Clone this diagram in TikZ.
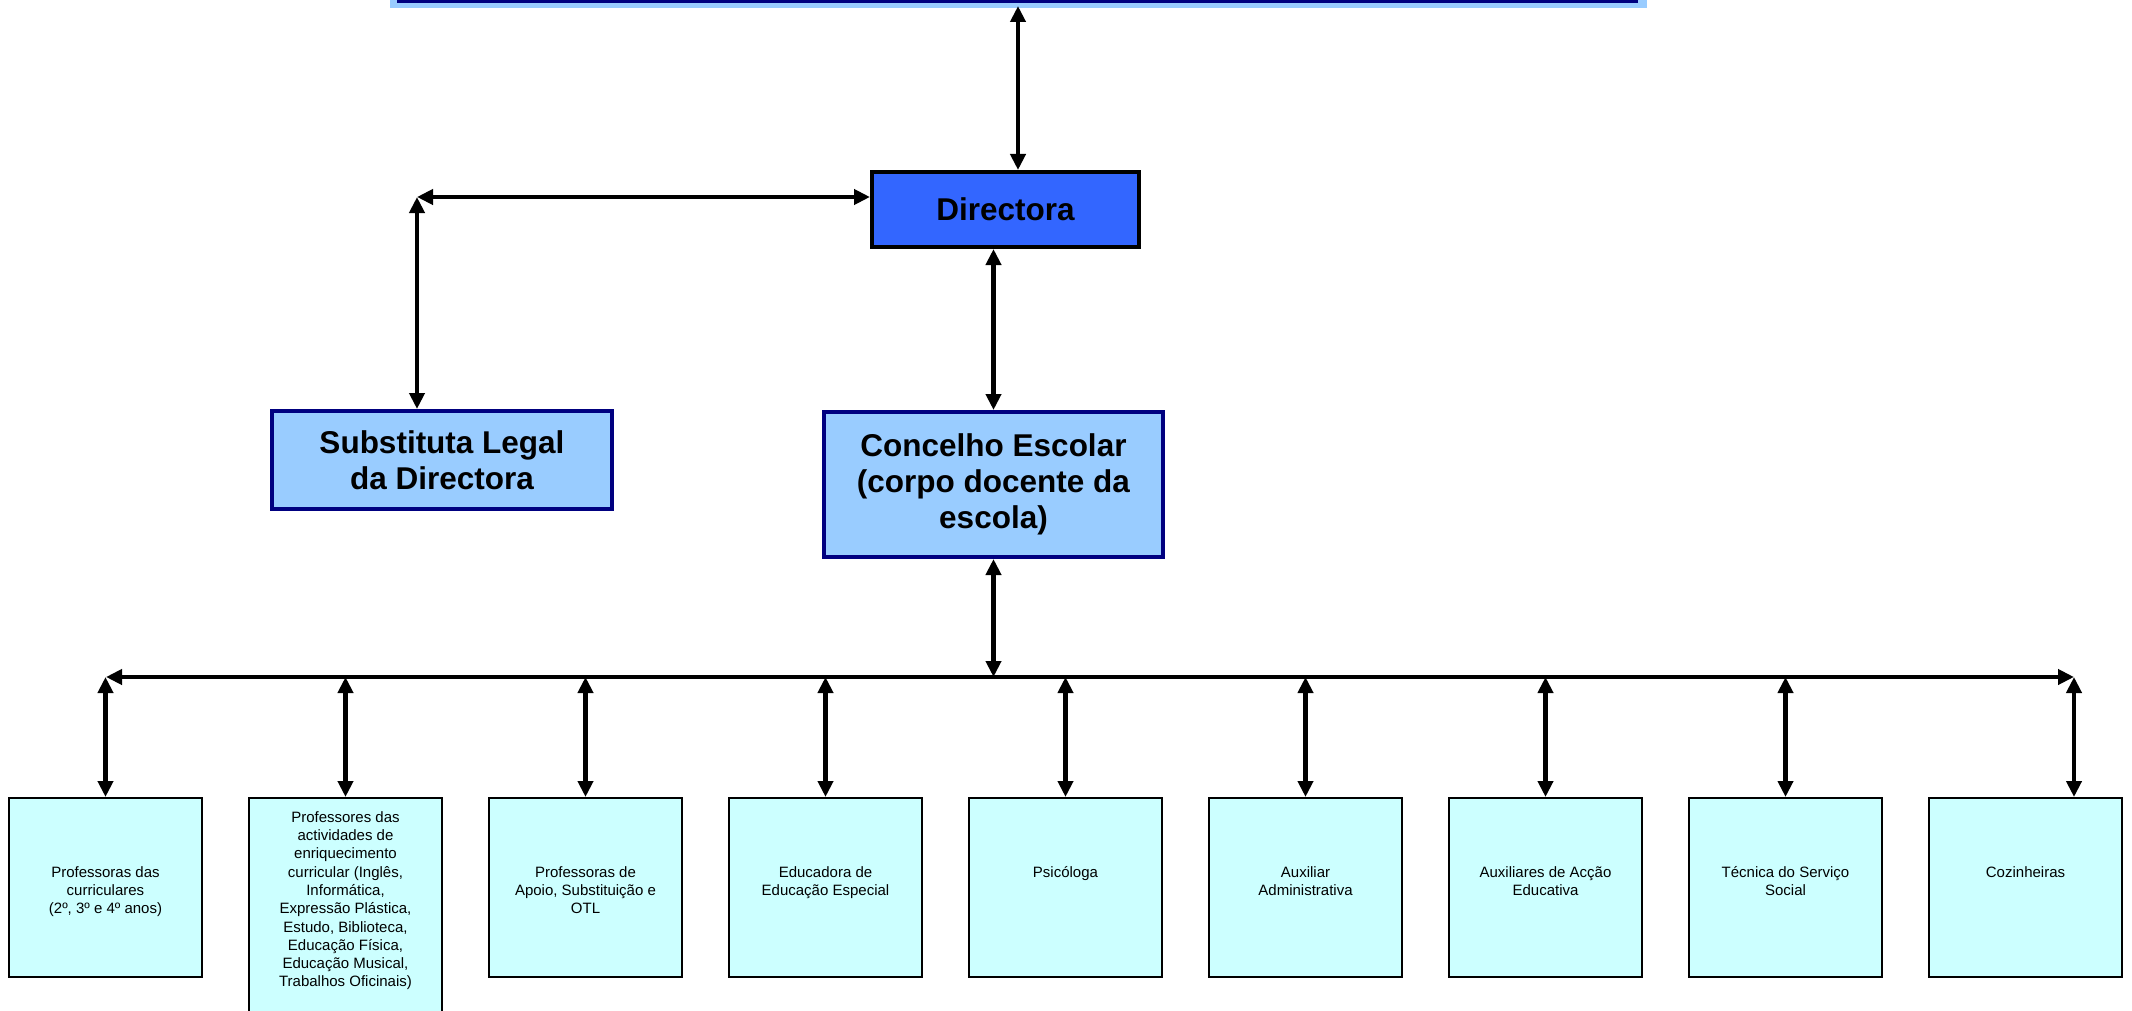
\documentclass[tikz,border=0pt]{standalone}
\usepackage{fontspec}
\setmainfont{Liberation Sans}
\usetikzlibrary{arrows.meta,calc}
\definecolor{lblue}{HTML}{99CCFF}
\definecolor{navyb}{HTML}{000080}
\definecolor{cyanb}{HTML}{CCFFFF}
\definecolor{dirblue}{HTML}{3366FF}
\begin{document}
\begin{tikzpicture}[x=0.5pt,y=-0.5pt,
  conn/.style={line width=2.4pt,{Triangle[length=8pt,width=7.5pt]}-{Triangle[length=8pt,width=7.5pt]}},
  headbox/.style={draw=navyb,line width=2pt,fill=lblue,align=center,inner sep=0pt,
    font=\bfseries\fontsize{15.75}{18}\selectfont},
  dirbox/.style={draw=black,line width=2pt,fill=dirblue,align=center,inner sep=0pt,
    font=\bfseries\fontsize{15.75}{18}\selectfont},
  staffbox/.style={draw=black,line width=0.75pt,fill=cyanb,inner sep=0pt,
    minimum width=96.5pt,minimum height=89.5pt,anchor=north},
  stafftext/.style={align=center,inner sep=0pt,anchor=north,
    font=\fontsize{7.5}{9.15}\selectfont}]
\useasboundingbox (0,0) rectangle (2132,1011);
\begin{scope}
\clip (0,0) rectangle (2132,1011);
% top box (cut off)
\fill[lblue] (390,-30) rectangle (1647,8);
\draw[navyb,line width=1.2pt] (398,-30) rectangle (1637,1.5);
\coordinate (topb) at (1018,6);
% head boxes
\node[dirbox,minimum width=133.5pt,minimum height=37.5pt] (dir) at (1005.5,209.5) {Directora};
\node[headbox,minimum width=170pt,minimum height=49pt] (sub) at (442,460) {Substituta Legal\\da Directora};
\node[headbox,minimum width=169.5pt,minimum height=72.5pt] (conc) at (993.5,484.5) {Concelho Escolar\\(corpo docente da\\escola)};
\coordinate (corner) at (417,197);
\coordinate (busL) at (106,677);
\coordinate (busR) at (2074,677);
% staff boxes
\node[staffbox] (b1) at (105.5,797) {};
\node[staffbox,minimum height=120pt] (b2) at (345.5,797) {};
\node[staffbox] (b3) at (585.5,797) {};
\node[staffbox] (b4) at (825.5,797) {};
\node[staffbox] (b5) at (1065.5,797) {};
\node[staffbox] (b6) at (1305.5,797) {};
\node[staffbox] (b7) at (1545.5,797) {};
\node[staffbox] (b8) at (1785.5,797) {};
\node[staffbox] (b9) at (2025.5,797) {};
\node[stafftext] (t1) at (105.5,864) {\strut Professoras das\\curriculares\\(2º, 3º e 4º anos)};
\node[stafftext] (t2) at (345.5,809) {\strut Professores das\\actividades de\\enriquecimento\\curricular (Inglês,\\Informática,\\Expressão Plástica,\\Estudo, Biblioteca,\\Educação Física,\\Educação Musical,\\Trabalhos Oficinais)};
\node[stafftext] (t3) at (585.5,864) {\strut Professoras de\\Apoio, Substituição e\\OTL};
\node[stafftext] (t4) at (825.5,864) {\strut Educadora de\\Educação Especial};
\node[stafftext] (t5) at (1065.5,864) {\strut Psicóloga};
\node[stafftext] (t6) at (1305.5,864) {\strut Auxiliar\\Administrativa};
\node[stafftext] (t7) at (1545.5,864) {\strut Auxiliares de Acção\\Educativa};
\node[stafftext] (t8) at (1785.5,864) {\strut Técnica do Serviço\\Social};
\node[stafftext] (t9) at (2025.5,864) {\strut Cozinheiras};
% connectors
\draw[conn] (topb) -- (dir.north -| topb);
\draw[conn] (dir.west |- corner) -- (corner);
\draw[conn] (corner) -- (sub.north -| corner);
\draw[conn] (dir.south -| conc.north) -- (conc.north);
\draw[conn] (conc.south) -- (conc.south |- busL);
\draw[conn] (busL) -- (busR);
\foreach \b in {b1,b2,b3,b4,b5,b6,b7,b8}{
  \draw[conn] (\b.north |- busL) -- (\b.north);
}
\draw[conn] (busR) -- (b9.north -| busR);
\end{scope}
\end{tikzpicture}
\end{document}
